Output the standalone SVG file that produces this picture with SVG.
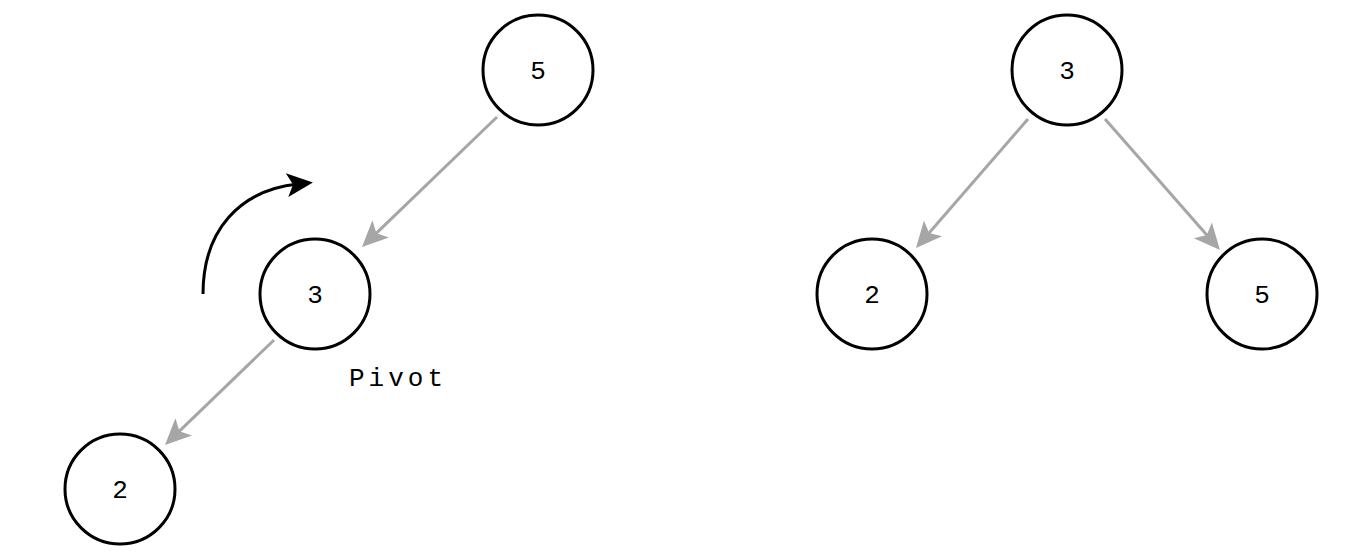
<svg xmlns="http://www.w3.org/2000/svg" width="1364" height="558" viewBox="0 0 1364 558">
<style>
.n circle{fill:#fff;stroke:#000;stroke-width:3}
text{font-family:"Liberation Mono","DejaVu Sans Mono",monospace;font-size:26px;fill:#000;text-anchor:middle}
.e{stroke:#a6a6a6;stroke-width:3;fill:none;marker-end:url(#g)}
</style>
<defs>
<marker id="g" markerUnits="userSpaceOnUse" viewBox="-20 -20 40 40" markerWidth="40" markerHeight="40" refX="0" refY="0" orient="auto" overflow="visible"><path d="M-11,-12 L15,0 L-11,12 L-5,0 Z" fill="#a6a6a6"/></marker>
<marker id="b" markerUnits="userSpaceOnUse" viewBox="-20 -20 40 40" markerWidth="40" markerHeight="40" refX="0" refY="0" orient="auto" overflow="visible"><path d="M-11,-12 L15,0 L-11,12 L-5,0 Z" fill="#000"/></marker>
</defs>
<g id="connectors">
<line class="e" x1="497" y1="117" x2="372.8" y2="236.6"/>
<line class="e" x1="274" y1="340" x2="175.8" y2="434.6"/>
<line class="e" x1="1028" y1="119" x2="925.8" y2="236.7"/>
<line class="e" x1="1105" y1="119" x2="1210.1" y2="238.7"/>
<path d="M203,294 C203,230 240,190 298,184" stroke="#000" stroke-width="3" fill="none" marker-end="url(#b)"/>
</g>
<g id="n5a" class="n"><circle cx="538" cy="70" r="55"/><text x="538" y="79">5</text></g>
<g id="n3a" class="n"><circle cx="315" cy="294" r="55"/><text x="315" y="303">3</text></g>
<g id="n2a" class="n"><circle cx="120" cy="489" r="55"/><text x="120" y="498">2</text></g>
<g id="n3b" class="n"><circle cx="1067" cy="70" r="55"/><text x="1067" y="79">3</text></g>
<g id="n2b" class="n"><circle cx="872" cy="294" r="55"/><text x="872" y="303">2</text></g>
<g id="n5b" class="n"><circle cx="1262" cy="294" r="55"/><text x="1262" y="303">5</text></g>
<text x="398" y="386" letter-spacing="4">Pivot</text>
</svg>
